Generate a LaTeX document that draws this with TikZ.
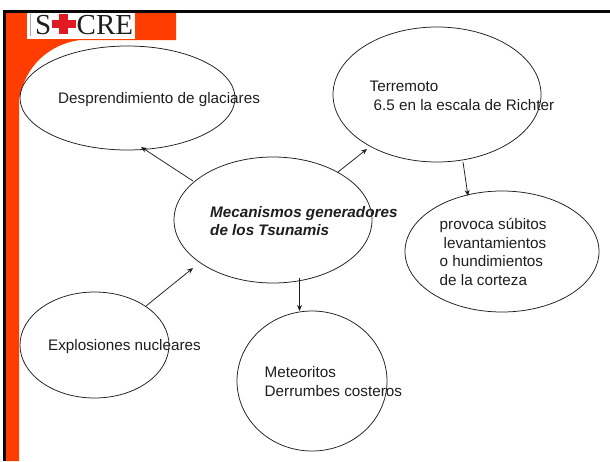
\documentclass[tikz,border=0pt]{standalone}
\usepackage{fontspec}
\setmainfont{Liberation Sans}
\newfontfamily\logofont{Liberation Serif}
\usetikzlibrary{shapes.geometric,arrows.meta}
\definecolor{sideorange}{RGB}{255,61,0}
\definecolor{edgeblack}{RGB}{8,8,8}
\definecolor{inkgray}{RGB}{30,30,30}
\definecolor{crossred}{RGB}{225,25,35}
\tikzset{
  x=1pt,y=-1pt,
  bubble/.style={draw=inkgray,line width=0.75pt,ellipse,inner sep=0pt,outer sep=0pt},
  label/.style={font=\fontsize{15.25pt}{18.7pt}\selectfont,text=inkgray,anchor=west,align=left,inner sep=0pt},
  link/.style={draw=inkgray,line width=0.75pt,-{Stealth[length=6pt,width=5pt]}}
}
\begin{document}
\begin{tikzpicture}
\useasboundingbox (0,0) rectangle (610,461);
\fill[white] (0,0) rectangle (610,461);
% orange frame band
\fill[sideorange] (5,12) -- (176,12) -- (176,40) -- (80,40)
  .. controls (50,44) and (25,65) .. (19,100) -- (19,461) -- (5,461) -- cycle;
\fill[edgeblack] (3,10) rectangle (610,12.7);
\fill[edgeblack] (3,10) rectangle (6,461);
% logo
\node[fill=white,minimum width=108pt,minimum height=26.5pt,inner sep=0pt,anchor=north west] (logo) at (27,12.7) {};
\node[font=\logofont\fontsize{29pt}{29pt}\selectfont,text=inkgray,inner sep=0pt,anchor=base west] (logoS) at (35,34) {S};
\node[font=\logofont\fontsize{29pt}{29pt}\selectfont,text=inkgray,inner sep=0pt,anchor=base west] (logoCRE) at (76.5,34) {CRE};
\fill[crossred] (59,14) rectangle (68,34);
\fill[crossred] (52,20) rectangle (76,28);
\fill[gray!70] (29.5,14) rectangle (30.5,36);
% ellipses
\node[bubble,minimum width=215pt,minimum height=104pt] (glaciar) at (127.5,98) {};
\node[bubble,minimum width=208pt,minimum height=135pt] (terremoto) at (437,94.5) {};
\node[bubble,minimum width=198pt,minimum height=126pt] (centro) at (273,220) {};
\node[bubble,minimum width=194pt,minimum height=121pt] (provoca) at (502,251.5) {};
\node[bubble,minimum width=149pt,minimum height=106pt] (explosion) at (94.5,345) {};
\node[bubble,minimum width=150pt,minimum height=140pt] (meteoro) at (312,381) {};
% labels
\node[label] (tg) at (58,100) {Desprendimiento de glaciares};
\node[label] (tt) at (369.5,95.5) {Terremoto\\\hspace*{4pt}6.5 en la escala de Richter};
\node[label,font=\fontsize{15.25pt}{18.7pt}\selectfont\bfseries\itshape] (tc) at (210,221) {Mecanismos generadores\\de los Tsunamis};
\node[label] (tp) at (439.5,252) {provoca súbitos\\\hspace*{4pt}levantamientos\\o hundimientos\\de la corteza};
\node[label] (te) at (48,347) {Explosiones nucleares};
\node[label] (tm) at (264.5,381.5) {Meteoritos\\Derrumbes costeros};
% free connector ends
\coordinate (a1) at (193,181); \coordinate (a2) at (141,147);
\coordinate (b1) at (338,172); \coordinate (b2) at (367,149);
\coordinate (c1) at (146,306); \coordinate (c2) at (193,268);
\coordinate (d1) at (299.5,278); \coordinate (d2) at (299.5,311);
\coordinate (e1) at (463,162); \coordinate (e2) at (468,196);
\draw[link] (a1) -- (a2);
\draw[link] (b1) -- (b2);
\draw[link] (c1) -- (c2);
\draw[link] (d1) -- (d2);
\draw[link] (e1) -- (e2);
\end{tikzpicture}
\end{document}
